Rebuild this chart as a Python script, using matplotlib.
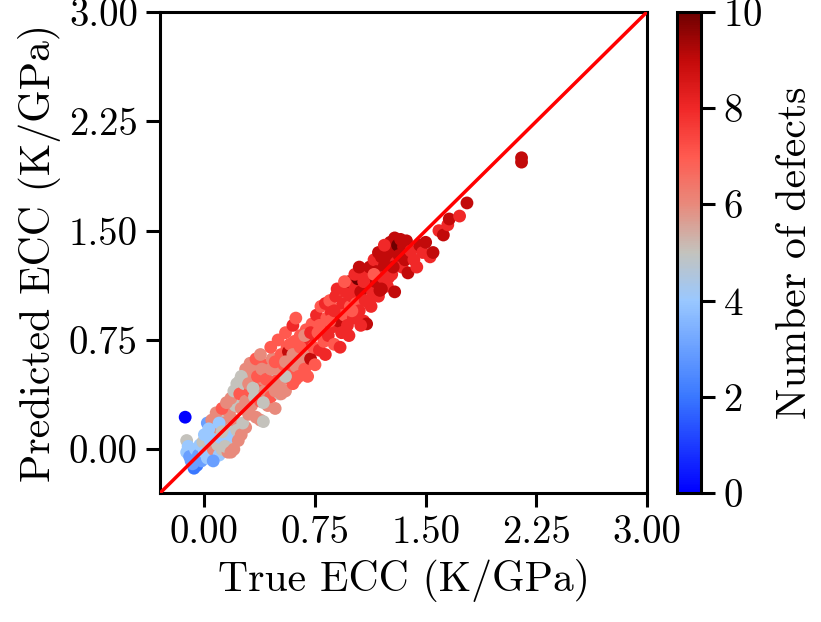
import numpy as np
import matplotlib
matplotlib.use("Agg")
import matplotlib.pyplot as plt
from matplotlib.colors import LinearSegmentedColormap

plt.rcParams['font.family'] = 'cmr10'
plt.rcParams['mathtext.fontset'] = 'cm'
plt.rcParams['axes.formatter.use_mathtext'] = True
plt.rcParams['axes.unicode_minus'] = False

# --- data: (true, predicted, defects) per region ---
low_true = [-0.13, -0.12, -0.12, -0.11, -0.10, -0.09, -0.07, -0.05, -0.06, -0.04, -0.03, -0.02,
            -0.01, 0.00, 0.01, 0.02, 0.02, 0.03, 0.04, 0.05, 0.05, 0.06, 0.07, 0.08, 0.09, 0.09,
            0.10, 0.11, 0.11, 0.12, 0.13, 0.14, 0.15, 0.16, 0.16, 0.17, 0.18, 0.19, 0.20, 0.21,
            0.22, 0.23,
            0.05, 0.08, 0.12, 0.15, 0.18, 0.20, 0.22, 0.24, 0.26, 0.10, 0.14, 0.18, 0.20, 0.06,
            -0.08, 0.00, 0.03, 0.12, 0.25, 0.28]
low_pred = [0.22, 0.06, -0.02, 0.02, -0.05, -0.08, -0.13, -0.11, 0.00, -0.04, 0.03, -0.08,
            0.05, -0.02, 0.10, 0.18, -0.06, 0.02, 0.06, 0.12, -0.03, 0.00, 0.08, 0.15, 0.15, 0.03,
            -0.04, 0.22, 0.08, 0.00, 0.18, 0.11, 0.05, 0.01, -0.02, 0.25, 0.14, 0.09, 0.20, 0.30,
            0.13, 0.06,
            0.20, 0.25, 0.28, 0.32, 0.35, 0.40, 0.45, 0.47, 0.50, 0.18, 0.02, -0.02, 0.00, -0.08,
            -0.10, 0.10, 0.14, 0.12, 0.10, 0.15]
low_def = [0, 5, 4, 4, 3, 3, 2, 2, 4, 3, 4, 3,
           5, 4, 4, 3, 4, 5, 4, 5, 4, 6, 4, 5, 6, 5,
           4, 5, 4, 5, 6, 5, 4, 5, 6, 6, 5, 4, 6, 5,
           5, 6,
           6, 6, 7, 6, 6, 5, 5, 5, 6, 4, 5, 6, 6, 3,
           3, 4, 4, 5, 6, 6]

mid_true = [0.24, 0.25, 0.26, 0.27, 0.28, 0.29, 0.30, 0.31, 0.32, 0.33, 0.34, 0.35, 0.36, 0.37,
            0.38, 0.38, 0.40, 0.40, 0.41, 0.42, 0.43, 0.44, 0.45, 0.46, 0.47, 0.48, 0.49, 0.50,
            0.51, 0.52, 0.53, 0.54, 0.55, 0.56, 0.57, 0.58, 0.59, 0.60, 0.61, 0.62, 0.63, 0.64,
            0.65, 0.66, 0.67, 0.68, 0.69, 0.70, 0.71, 0.72, 0.73, 0.74, 0.75,
            0.28, 0.31, 0.35, 0.25, 0.38, 0.45, 0.50, 0.55, 0.60, 0.62,
            0.30, 0.33, 0.36, 0.39, 0.42, 0.45, 0.48, 0.50, 0.52, 0.55, 0.58, 0.60, 0.62, 0.65,
            0.68, 0.70, 0.72, 0.55, 0.48, 0.40]
mid_pred = [0.38, 0.28, 0.18, 0.45, 0.33, 0.47, 0.24, 0.40, 0.30, 0.52, 0.36, 0.22, 0.44, 0.56,
            0.20, 0.33, 0.19, 0.48, 0.40, 0.58, 0.30, 0.50, 0.36, 0.62, 0.44, 0.28, 0.47, 0.55,
            0.38, 0.65, 0.48, 0.58, 0.40, 0.70, 0.67, 0.52, 0.61, 0.45, 0.74, 0.57, 0.66, 0.50,
            0.78, 0.60, 0.70, 0.55, 0.82, 0.65, 0.74, 0.62, 0.86, 0.70, 0.58,
            0.55, 0.59, 0.62, 0.50, 0.65, 0.70, 0.75, 0.80, 0.85, 0.90,
            0.45, 0.42, 0.50, 0.55, 0.48, 0.55, 0.60, 0.45, 0.38, 0.60, 0.72, 0.65, 0.48, 0.70,
            0.78, 0.50, 0.80, 0.50, 0.40, 0.32]
mid_def = [7, 6, 5, 5, 6, 5, 6, 7, 6, 6, 5, 6, 7, 6,
           6, 7, 5, 6, 6, 7, 6, 5, 7, 6, 6, 6, 7, 6,
           5, 7, 6, 7, 6, 7, 9, 7, 6, 7, 7, 6, 8, 7,
           7, 6, 7, 7, 7, 6, 8, 9, 7, 7, 7,
           6, 6, 7, 5, 6, 7, 7, 7, 8, 7,
           6, 5, 7, 6, 7, 6, 7, 6, 6, 6, 7, 6, 7, 7,
           6, 7, 8, 5, 6, 5]

high_true = [0.76, 0.77, 0.78, 0.79, 0.80, 0.81, 0.82, 0.83, 0.84, 0.85, 0.86, 0.87, 0.88, 0.89,
             0.90, 0.91, 0.92, 0.93, 0.94, 0.95, 0.96, 0.97, 0.98, 0.99, 1.00, 1.01, 1.02, 1.03,
             1.04, 1.05, 1.06, 1.07, 1.08, 1.09, 1.10, 1.10, 1.11, 1.12, 1.13, 1.14, 1.15, 1.16,
             1.17, 1.18, 1.19, 1.20, 1.21, 1.22, 1.23, 1.24, 1.25, 1.26, 1.27, 1.28, 1.29, 1.29,
             1.30, 1.31, 1.32, 1.33, 1.34, 1.35, 1.36, 1.37, 1.38, 1.40, 1.42, 1.44, 1.46, 1.48,
             1.50, 1.53, 1.55,
             0.78, 0.82, 0.85, 0.88, 0.90, 0.92, 0.95, 0.98, 1.00, 1.02, 1.05, 1.06, 1.08, 1.12,
             1.15, 1.18, 1.20, 1.22, 1.25, 1.28]
high_pred = [0.92, 0.80, 0.68, 0.98, 0.86, 0.74, 1.00, 0.90, 0.78, 1.02, 0.94, 0.84, 0.72, 1.05,
             0.96, 0.88, 1.10, 0.80, 1.00, 0.92, 1.08, 0.85, 1.15, 0.98, 1.05, 0.90, 1.12, 1.00,
             1.17, 0.95, 1.08, 1.20, 0.88, 1.02, 0.86, 1.18, 1.12, 1.25, 0.98, 1.08, 1.30, 1.15,
             1.22, 1.05, 1.09, 1.32, 1.18, 1.26, 1.38, 1.12, 1.30, 1.42, 1.20, 1.35, 1.45, 1.08,
             1.28, 1.40, 1.33, 1.44, 1.25, 1.39, 1.30, 1.43, 1.21, 1.36, 1.30, 1.25, 1.40, 1.35,
             1.42, 1.32, 1.35,
             0.85, 0.65, 0.88, 0.95, 1.10, 0.70, 1.15, 0.78, 0.95, 1.20, 1.25, 0.85, 1.15, 1.00,
             1.20, 1.35, 1.10, 1.40, 1.18, 1.25]
high_def = [8, 7, 8, 7, 8, 7, 8, 7, 8, 7, 8, 8, 7, 8,
            7, 9, 7, 8, 8, 7, 8, 8, 9, 7, 8, 8, 8, 7,
            10, 8, 9, 8, 8, 8, 9, 8, 9, 9, 8, 8, 8, 9,
            9, 8, 9, 9, 8, 9, 9, 8, 9, 9, 8, 9, 9, 9,
            8, 10, 9, 9, 8, 9, 9, 9, 9, 8, 8, 8, 9, 8,
            9, 8, 9,
            7, 8, 7, 8, 8, 8, 7, 8, 7, 8, 9, 8, 8, 8,
            7, 9, 9, 8, 8, 9]

tail_true = [1.59, 1.62, 1.65, 1.66, 1.73, 1.78, 2.15, 2.15]
tail_pred = [1.50, 1.47, 1.54, 1.58, 1.60, 1.69, 1.97, 2.00]
tail_def = [8, 9, 8, 9, 8, 9, 9, 9]

true_ecc = np.array(low_true + mid_true + high_true + tail_true)
pred_ecc = np.array(low_pred + mid_pred + high_pred + tail_pred)
n_defects = np.array(low_def + mid_def + high_def + tail_def)

# colormap: blue -> light blue -> grey -> red -> dark red
cmap = LinearSegmentedColormap.from_list("defects", [
    (0.0, "#0000ff"),
    (0.2, "#3a78ff"),
    (0.4, "#9ac8ff"),
    (0.5, "#c3c3bd"),
    (0.6, "#e88a7c"),
    (0.7, "#ff5a50"),
    (0.8, "#f02828"),
    (0.9, "#c40a0a"),
    (1.0, "#6e0000"),
])

fig = plt.figure(figsize=(8.21, 6.22), dpi=100)
ax = fig.add_axes([0.195, 0.2074, 0.593, 0.7733])
cax = fig.add_axes([0.825, 0.2074, 0.029, 0.7733])

lims = [-0.3, 3.0]
sc = ax.scatter(true_ecc, pred_ecc, c=n_defects, cmap=cmap, vmin=0, vmax=10,
                s=85, linewidths=0, zorder=2)
ax.plot(lims, lims, color='red', linewidth=2.5, zorder=3)

ax.set_xlim(lims)
ax.set_ylim(lims)
ticks = [0.0, 0.75, 1.5, 2.25, 3.0]
ax.set_xticks(ticks)
ax.set_yticks(ticks)
ax.set_xticklabels([f"{t:.2f}" for t in ticks])
ax.set_yticklabels([f"{t:.2f}" for t in ticks])
ax.set_xlabel("True ECC (K/GPa)", fontsize=30, labelpad=6)
ax.set_ylabel("Predicted ECC (K/GPa)", fontsize=30, labelpad=6)

for a in (ax, cax):
    for sp in a.spines.values():
        sp.set_linewidth(2.2)
    a.tick_params(labelsize=28, width=2.2, length=10, pad=6)

cb = fig.colorbar(sc, cax=cax, ticks=[0, 2, 4, 6, 8, 10])
cb.outline.set_linewidth(2.2)
cb.set_label("Number of defects", fontsize=30, labelpad=10)

fig.savefig("out.png", dpi=100)
